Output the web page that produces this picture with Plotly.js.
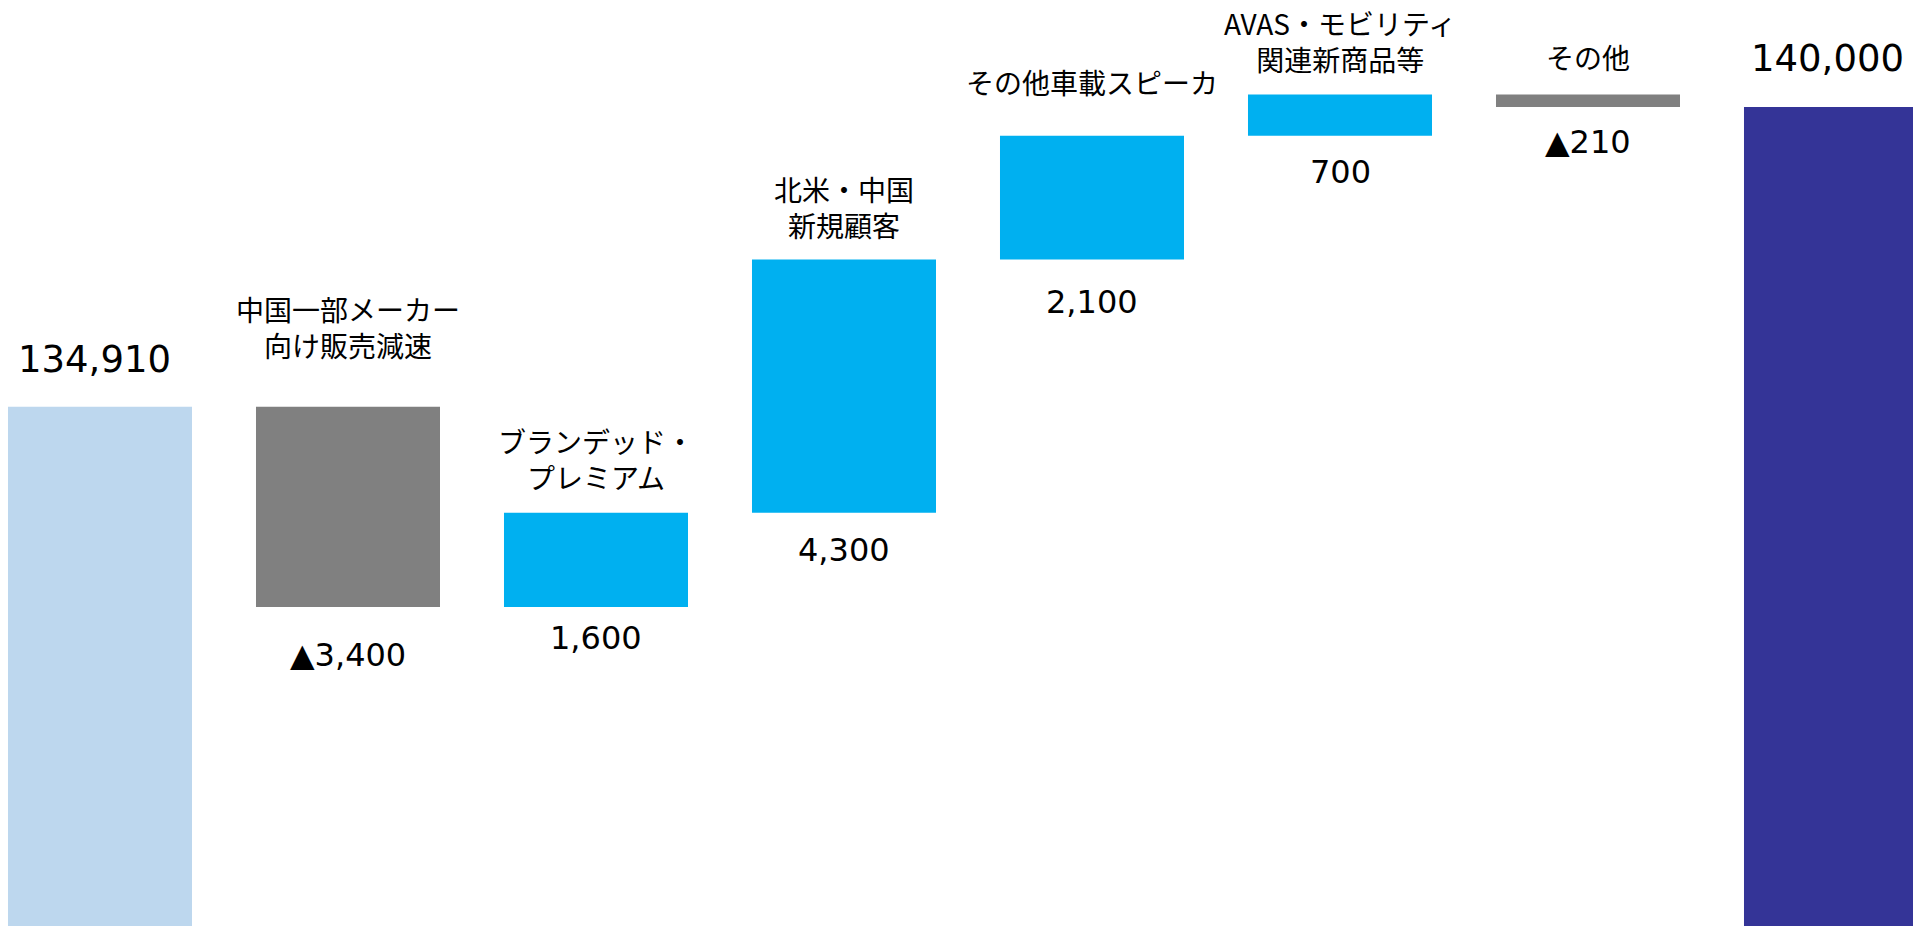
<!DOCTYPE html>
<html>
<head>
<meta charset="utf-8">
<script src="https://cdn.plot.ly/plotly-3.0.1.min.js"></script>
<style>html,body{margin:0;padding:0;background:#fff;}#chart{width:1913px;height:926px;}</style>
</head>
<body>
<div id="chart"></div>
<script>
// ---- data ----
const labels = [
  '',
  '中国一部メーカー<br>向け販売減速',
  'ブランデッド・<br>プレミアム',
  '北米・中国<br>新規顧客',
  'その他車載スピーカ',
  'AVAS・モビリティ<br>関連新商品等',
  'その他',
  ''
];
const values = [134910, -3400, 1600, 4300, 2100, 700, -210, 140000];
const measures = ['absolute', 'relative', 'relative', 'relative', 'relative', 'relative', 'relative', 'total'];

// ---- styles / layout tweaks ----
const colStart = '#BDD7EE', colDown = '#808080', colUp = '#00B0F0', colTotal = '#343497';
const topGap = [33, 46, 20, 18, 38, 20, 22, 34];     // px gap bar top -> label
const botGap = [0, 35, 18, 24, 30, 23, 22, 0];       // px gap bar bottom -> value
const totShift = [-5, 0, 0, 0, 0, 0, 0, -9];          // px horizontal nudge of total labels

// build bases from data
const xs = [], bases = [], lens = [], colors = [], tops = [], bottoms = [];
let run = 0;
values.forEach((v, i) => {
  xs.push(i);
  if (measures[i] === 'absolute') {
    run = v; bases.push(0); lens.push(v); colors.push(colStart);
    tops.push(v); bottoms.push(0);
  } else if (measures[i] === 'total') {
    bases.push(0); lens.push(v); colors.push(colTotal);
    tops.push(v); bottoms.push(0);
  } else {
    const start = run; run += v;
    bases.push(start); lens.push(v); colors.push(v >= 0 ? colUp : colDown);
    tops.push(Math.max(start, run)); bottoms.push(Math.min(start, run));
  }
});

function fmt(v) {
  const s = Math.abs(v).toLocaleString('en-US');
  return v < 0 ? '▲' + s : s;
}

const numFont = 'DejaVu Sans, Liberation Sans, sans-serif';
const jpFont = 'Noto Sans CJK JP, sans-serif';

const annotations = [];
values.forEach((v, i) => {
  const isTotal = measures[i] !== 'relative';
  if (isTotal) {
    annotations.push({
      x: xs[i], y: tops[i], xref: 'x', yref: 'y', text: fmt(v), showarrow: false,
      yanchor: 'bottom', yshift: topGap[i] - 9, xshift: totShift[i],
      font: {family: numFont, size: 37, color: '#000'}
    });
  } else {
    annotations.push({
      x: xs[i], y: tops[i], xref: 'x', yref: 'y', text: labels[i], showarrow: false,
      yanchor: 'bottom', yshift: topGap[i] - 6,
      font: {family: jpFont, size: 28, color: '#000'}
    });
    annotations.push({
      x: xs[i], y: bottoms[i], xref: 'x', yref: 'y', text: fmt(v), showarrow: false,
      yanchor: 'top', yshift: -(botGap[i] - 8),
      font: {family: numFont, size: 32, color: '#000'}
    });
  }
});

const trace = {
  type: 'bar', x: xs, y: lens, base: bases, width: 0.742,
  marker: {color: colors, line: {width: 0}},
  hoverinfo: 'skip', showlegend: false
};

const layout = {
  width: 1913, height: 926,
  margin: {l: 0, r: 0, t: 0, b: 0, pad: 0},
  paper_bgcolor: '#fff', plot_bgcolor: '#fff',
  xaxis: {range: [-0.4032, 7.3105], visible: false, fixedrange: true},
  yaxis: {range: [126092, 141816], visible: false, fixedrange: true},
  annotations: annotations,
  showlegend: false
};

Plotly.newPlot('chart', [trace], layout, {displayModeBar: false, staticPlot: true});
</script>
</body>
</html>
